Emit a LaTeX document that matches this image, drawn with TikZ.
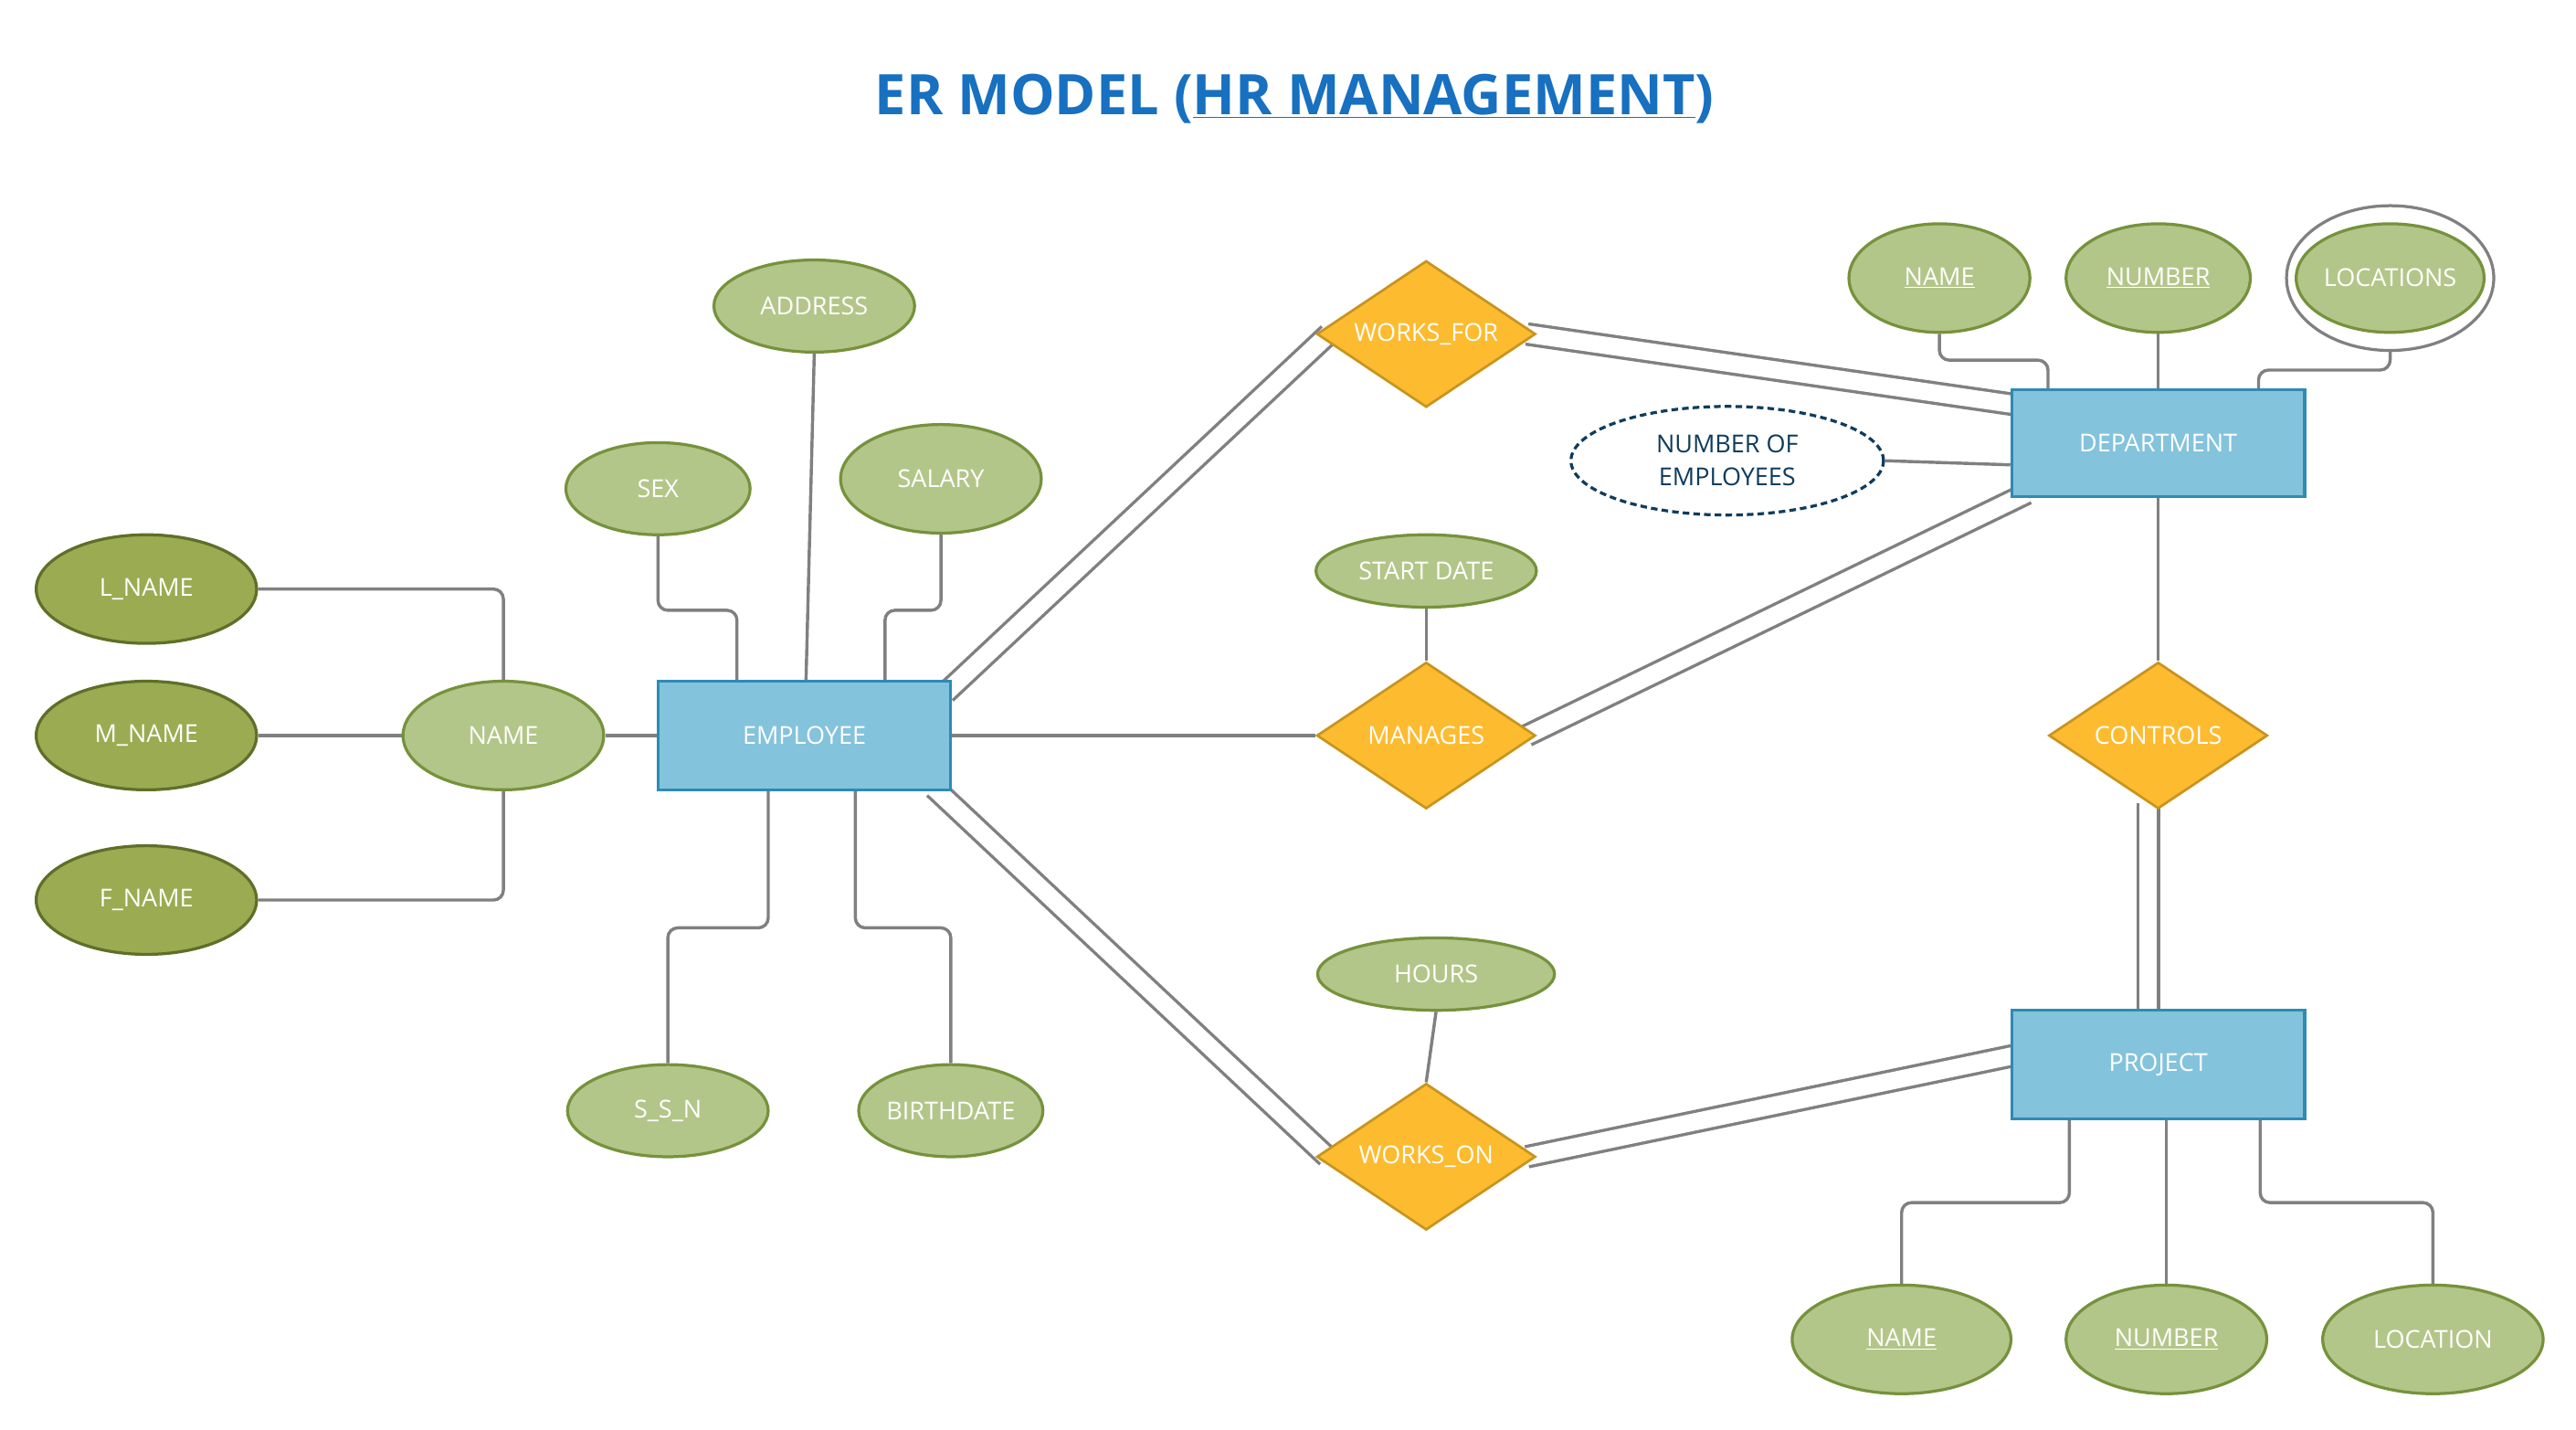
\documentclass[tikz,border=0pt]{standalone}
\usepackage{fontspec}
\setmainfont{Open Sans}
\usepackage{xcolor}
\usetikzlibrary{shapes.geometric,backgrounds}

\definecolor{titleblue}{RGB}{23,112,192}
\definecolor{entityfill}{RGB}{132,195,220}
\definecolor{entityline}{RGB}{46,139,181}
\definecolor{relfill}{RGB}{253,187,48}
\definecolor{relline}{RGB}{200,148,30}
\definecolor{attrfill}{RGB}{179,198,137}
\definecolor{attrline}{RGB}{118,146,60}
\definecolor{subfill}{RGB}{155,171,82}
\definecolor{subline}{RGB}{95,111,41}
\definecolor{derivedline}{RGB}{15,60,92}
\definecolor{linkgray}{RGB}{128,128,128}

\begin{document}
\begin{tikzpicture}[x=1pt,y=-1pt,
  font=\fontsize{15}{20}\selectfont,
  entity/.style={rectangle,draw=entityline,fill=entityfill,line width=1.8pt,
    minimum width=178pt,minimum height=66pt,text=white},
  relation/.style={diamond,aspect=1.5,draw=relline,fill=relfill,line width=1.5pt,
    minimum width=133pt,minimum height=89pt,inner sep=0pt,text=white},
  attr/.style={ellipse,draw=attrline,fill=attrfill,line width=1.8pt,
    inner sep=0pt,text=white},
  subattr/.style={attr,draw=subline,fill=subfill},
  link/.style={draw=linkgray,line width=1.9pt,rounded corners=6pt},
  twolink/.style={draw=linkgray,line width=1.9pt,double=white,double distance=10.5pt}]
\path[use as bounding box] (0,0) rectangle (1566,869);

% Title
\node (title) at (787,60) {\fontsize{34}{40}\selectfont\bfseries\color{titleblue}ER MODEL (\underline{HR MANAGEMENT})};

% Employee side
\node[entity] (employee) at (489,447) {EMPLOYEE};
\node[attr,minimum width=122pt,minimum height=66pt] (empname) at (306,447) {NAME};
\node[subattr,minimum width=134pt,minimum height=66pt] (lname) at (89,358) {L\_NAME};
\node[subattr,minimum width=134pt,minimum height=66pt] (mname) at (89,447) {M\_NAME};
\node[subattr,minimum width=134pt,minimum height=66pt] (fname) at (89,547) {F\_NAME};
\node[attr,minimum width=112pt,minimum height=56pt] (sex) at (400,297) {SEX};
\node[attr,minimum width=122pt,minimum height=56pt] (address) at (495,186) {ADDRESS};
\node[attr,minimum width=122pt,minimum height=66pt] (salary) at (572,291) {SALARY};
\node[attr,minimum width=122pt,minimum height=56pt] (ssn) at (406,675) {S\_S\_N};
\node[attr,minimum width=112pt,minimum height=56pt] (birth) at (578,675) {BIRTHDATE};

% Relationships
\node[relation] (worksfor) at (867,203) {WORKS\_FOR};
\node[relation] (manages) at (867,447) {MANAGES};
\node[relation] (workson) at (867,703) {WORKS\_ON};
\node[relation] (controls) at (1312,447) {CONTROLS};
\node[attr,minimum width=134pt,minimum height=44pt] (start) at (867,347) {START DATE};
\node[attr,minimum width=144pt,minimum height=44pt] (hours) at (873,592) {HOURS};

% Department side
\node[entity,minimum height=65pt] (dept) at (1312,269.5) {DEPARTMENT};
\node[ellipse,draw=derivedline,fill=white,line width=1.8pt,dash pattern=on 4pt off 2.5pt,
  minimum width=190pt,minimum height=66pt,inner sep=0pt,text=derivedline,align=center]
  (numemp) at (1050,280) {NUMBER OF\\EMPLOYEES};
\node[attr,minimum width=110pt,minimum height=66pt] (dname) at (1179,169) {\underline{NAME}};
\node[attr,minimum width=112pt,minimum height=66pt] (dnum) at (1312,169) {\underline{NUMBER}};
\node[ellipse,draw=linkgray,fill=white,line width=1.8pt,minimum width=126pt,minimum height=88pt] (locout) at (1453,169) {};
\node[attr,minimum width=104pt,minimum height=66pt] (dloc) at (1453,169) {LOCATIONS};

% Project side
\node[entity] (proj) at (1312,647) {PROJECT};
\node[attr,minimum width=133pt,minimum height=66pt] (pname) at (1156,814) {\underline{NAME}};
\node[attr,minimum width=122pt,minimum height=66pt] (pnum) at (1317,814) {\underline{NUMBER}};
\node[attr,minimum width=134pt,minimum height=66pt] (ploc) at (1479,814) {LOCATION};

% Connectors
\begin{scope}[on background layer]
\fill[white] (0,0) rectangle (1566,869);
\draw[link] (lname.east) -| (empname.north);
\draw[link] (mname) -- (empname);
\draw[link] (fname.east) -| (empname.south);
\draw[link] (empname) -- (employee);
\draw[link] (sex.south) -- ++(0,45) -| ([xshift=-41pt]employee.north);
\draw[link] (address.south) -- ([xshift=1pt]employee.north);
\draw[link] (salary.south) -- ++(0,46) -| ([xshift=49pt]employee.north);
\draw[link] ([xshift=-22pt]employee.south) -- ++(0,83) -| (ssn.north);
\draw[link] ([xshift=31pt]employee.south) -- ++(0,83) -| (birth.north);

\draw[twolink] ([xshift=-4pt,yshift=-8pt]employee.north east) -- ([xshift=8pt]worksfor.west);
\draw[link] (employee) -- (manages);
\draw[twolink] ([xshift=-11pt,yshift=2pt]employee.south east) -- ([xshift=7pt]workson.west);
\draw[link] (start) -- (manages);
\draw[link] (hours.south) -- (workson.north);

\draw[twolink] ([xshift=-6pt]worksfor.east) -- ([xshift=4pt,yshift=-10pt]dept.north west);
\draw[twolink] ([xshift=-6pt]manages.east) -- ([xshift=10pt,yshift=3pt]dept.south west);
\draw[twolink] ([xshift=-6pt]workson.east) -- ([xshift=4pt,yshift=-28pt]proj.north west);
\draw[link] (numemp.east) -- ([yshift=-13pt]dept.west);
\draw[link] (dname.south) -- ++(0,16) -| ([xshift=-67pt]dept.north);
\draw[link] (dnum) -- (dept);
\draw[link] (locout.south) -- ++(0,11) -| ([xshift=61pt]dept.north);
\draw[link] (dept) -- (controls);
\draw[twolink] ([xshift=-6pt,yshift=4pt]controls.south) -- ([xshift=-6pt]proj.north);

\draw[link] ([xshift=-54pt]proj.south) -- ++(0,50) -| (pname.north);
\draw[link] ([xshift=5pt]proj.south) -- (pnum.north);
\draw[link] ([xshift=62pt]proj.south) -- ++(0,50) -| (ploc.north);
\end{scope}
\end{tikzpicture}
\end{document}
